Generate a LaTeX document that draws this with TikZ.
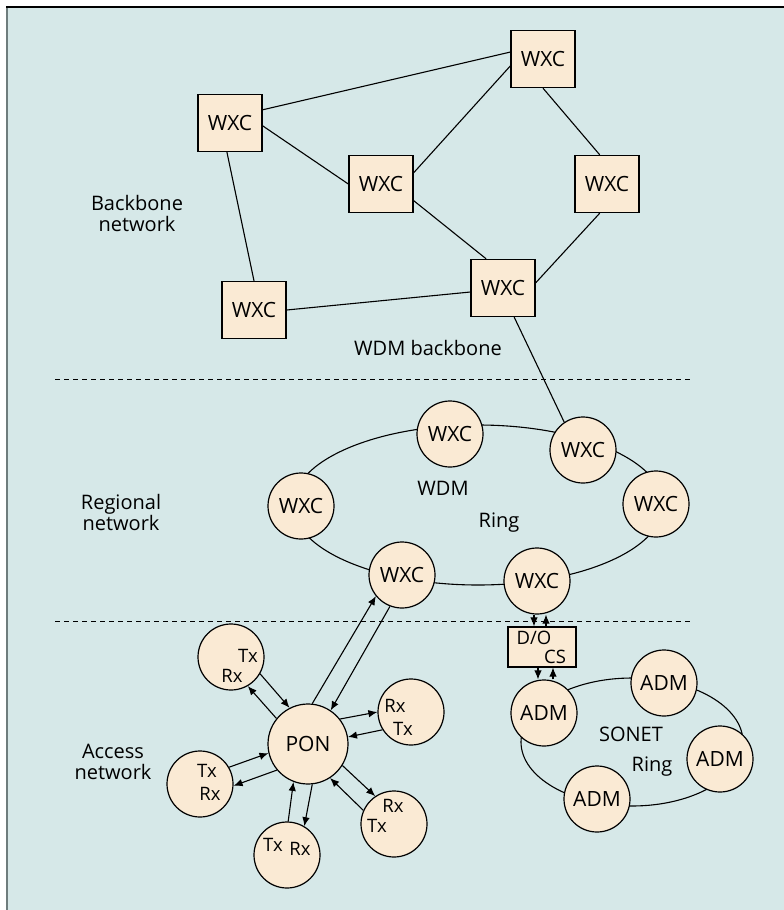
\documentclass[tikz,border=0pt]{standalone}
\usepackage{fontspec}
\setmainfont{Open Sans}
\usetikzlibrary{positioning,arrows.meta}
\definecolor{bgblue}{RGB}{214,232,232}
\definecolor{nodefill}{RGB}{250,234,212}
\definecolor{framegray}{RGB}{110,125,125}

\begin{document}
\begin{tikzpicture}[x=1pt, y=-1pt,
  wxcbox/.style={rectangle, draw, line width=1.4pt, fill=nodefill,
                 minimum width=64pt, minimum height=57pt, inner sep=0pt,
                 font=\fontsize{21}{22}\selectfont},
  circ/.style={circle, draw, line width=1.2pt, fill=nodefill,
               minimum size=66pt, inner sep=0pt,
               font=\fontsize{21}{22}\selectfont},
  docsbox/.style={rectangle, draw, line width=1.2pt, fill=nodefill,
                  minimum width=68pt, minimum height=40pt, inner sep=0pt},
  lbl/.style={align=center, inner sep=0pt, font=\fontsize{20}{21}\selectfont},
  small/.style={inner sep=0pt, font=\fontsize{18.5}{19}\selectfont},
  link/.style={line width=1.1pt},
  arr/.style={line width=1.1pt, ->},
  sep/.style={dash pattern=on 5pt off 4pt, line width=1pt},
  >={Latex[length=9pt,width=7.5pt]}
]
  \useasboundingbox (0,0) rectangle (784,910);
  \fill[bgblue] (7,7) rectangle (784,910);
  \draw[framegray, line width=2pt] (6.5,910) -- (6.5,7);
  \draw[line width=1.5pt] (6,7) -- (784,7);

  % layer boundaries
  \draw[sep] (55,379) -- (690,379);
  \draw[sep] (55,621) -- (690,621);

  % rings
  \draw[link] (478,505) ellipse [x radius=185, y radius=80];
  \draw[link] (632,742) ellipse [x radius=111, y radius=64];

  % backbone
  \node[wxcbox] (bbA) at (543,59) {WXC};
  \node[wxcbox] (bbB) at (230,123) {WXC};
  \node[wxcbox] (bbC) at (381,184) {WXC};
  \node[wxcbox] (bbD) at (607,184) {WXC};
  \node[wxcbox] (bbE) at (503,288) {WXC};
  \node[wxcbox] (bbF) at (254,310) {WXC};
  \node[lbl] (bbname) at (137,213) {Backbone\\network};
  \node[lbl] (bbwdm) at (428,348) {WDM backbone};

  % regional WDM ring
  \node[circ] (rg1) at (450,434) {WXC};
  \node[circ] (rg2) at (583,450) {WXC};
  \node[circ] (rg3) at (656,504) {WXC};
  \node[circ] (rg4) at (537,581) {WXC};
  \node[circ] (rg5) at (402,575) {WXC};
  \node[circ] (rg6) at (301,506) {WXC};
  \node[lbl] (rgwdm) at (443,488) {WDM};
  \node[lbl] (rgring) at (499,523) {Ring};
  \node[lbl] (rgname) at (121,512) {Regional\\network};

  % access
  \node[circ, minimum size=80pt] (pon) at (308,744) {PON};
  \node[circ] (tr1) at (231,657) {};
  \node[circ] (tr2) at (411,712) {};
  \node[circ] (tr3) at (200,784) {};
  \node[circ] (tr4) at (287,855) {};
  \node[circ] (tr5) at (394,824) {};
  \node[small] (tr1tx) at (248,656) {Tx};
  \node[small] (tr1rx) at (232,676) {Rx};
  \node[small] (tr2rx) at (395,706) {Rx};
  \node[small] (tr2tx) at (403,729) {Tx};
  \node[small] (tr3tx) at (207,771) {Tx};
  \node[small] (tr3rx) at (210,794) {Rx};
  \node[small] (tr4tx) at (273,845) {Tx};
  \node[small] (tr4rx) at (300,849) {Rx};
  \node[small] (tr5rx) at (393,806) {Rx};
  \node[small] (tr5tx) at (377,826) {Tx};
  \node[lbl] (acname) at (113,762) {Access\\network};

  % SONET ring
  \node[docsbox] (docs) at (542,647) {};
  \node[small] (docsa) at (534,638) {D/O};
  \node[small] (docsb) at (555,657) {CS};
  \node[circ] (adm1) at (544,713) {ADM};
  \node[circ] (adm2) at (664,683) {ADM};
  \node[circ] (adm3) at (720,759) {ADM};
  \node[circ] (adm4) at (597,799) {ADM};
  \node[lbl] (sonet) at (631,734) {SONET};
  \node[lbl] (soring) at (652,767) {Ring};

  % backbone links
  \draw[link] (bbB.22) -- (bbA.168);
  \draw[link] (bbC.19) -- (bbA.192);
  \draw[link] (bbA.south) -- (bbD.104);
  \draw[link] (bbB.-5) -- (bbC.west);
  \draw[link] (bbB.264) -- (bbF.north);
  \draw[link] (bbC.-27) -- (bbE.120);
  \draw[link] (bbD.256) -- (bbE.9);
  \draw[link] (bbE.187) -- (bbF.east);
  \draw[link] (bbE.-69) -- (rg2.124);

  % PON arrows
  \draw[arr] (tr1.-30) -- (pon.117);
  \draw[arr] (pon.141) -- (tr1.-60);
  \draw[arr] (pon.38) -- (tr2.180);
  \draw[arr] (tr2.212) -- (pon.10);
  \draw[arr] (tr3.30) -- (pon.193);
  \draw[arr] (pon.220) -- (tr3.-3);
  \draw[arr] (tr4.88) -- (pon.249);
  \draw[arr] (pon.276) -- (tr4.59);
  \draw[arr] (pon.-32) -- (tr5.124);
  \draw[arr] (tr5.156) -- (pon.-57);
  \draw[arr] (pon.84) -- (rg5.219);
  \draw[arr] (rg5.249) -- (pon.56);

  % D/O CS arrows
  \coordinate (dnl) at ([xshift=-8pt]docs.north);
  \coordinate (dnr) at ([xshift=4pt]docs.north);
  \coordinate (dsl) at ([xshift=-4pt]docs.south);
  \coordinate (dsr) at ([xshift=11pt]docs.south);
  \draw[arr] (dnl |- rg4.south) -- (dnl);
  \draw[arr] (dnr) -- (dnr |- rg4.south);
  \draw[arr] (dsl) -- (dsl |- adm1.north);
  \draw[arr] (dsr |- adm1.north) -- (dsr);
\end{tikzpicture}
\end{document}
